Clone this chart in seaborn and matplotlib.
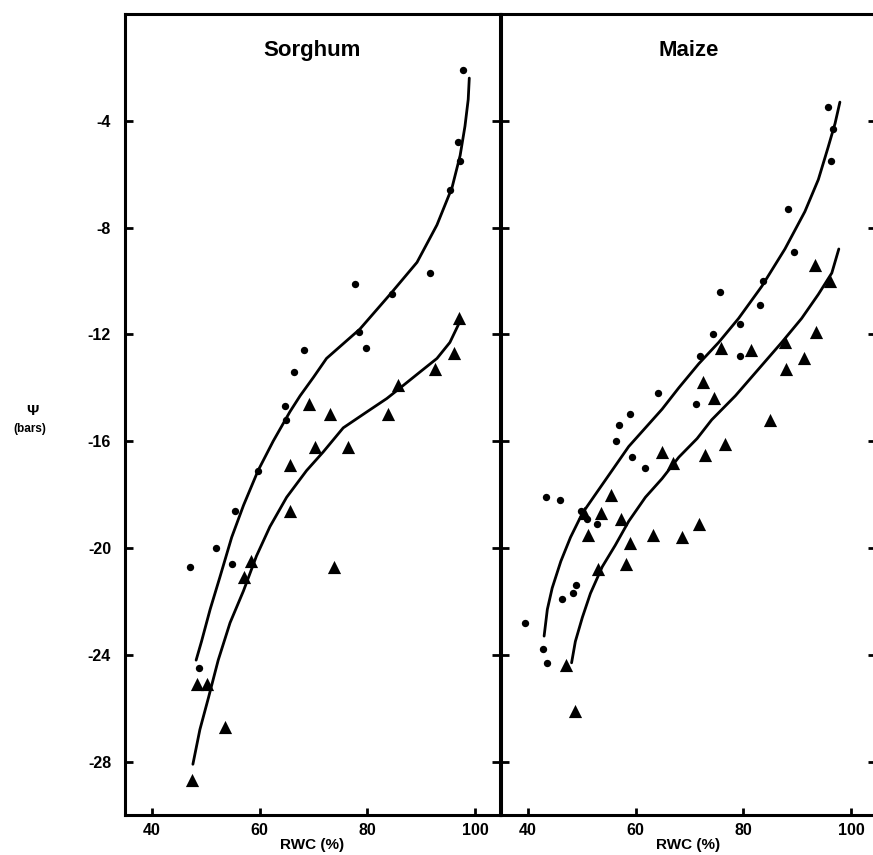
import matplotlib
matplotlib.use("Agg")
import matplotlib.pyplot as plt
import seaborn as sns
import pandas as pd

# ---------- dados ----------
# Sorgo: círculos (curva superior) e triângulos (curva inferior)
sorghum_circ_rwc = [97.8, 96.8, 97.2, 95.3, 91.6, 77.6, 84.5, 78.5, 79.7, 68.3, 66.4, 64.7, 64.8,
                    59.6, 55.5, 51.9, 47.1, 54.8, 48.8]
sorghum_circ_psi = [-2.1, -4.8, -5.5, -6.6, -9.7, -10.1, -10.5, -11.9, -12.5, -12.6, -13.4, -14.7, -15.2,
                    -17.1, -18.6, -20.0, -20.7, -20.6, -24.5]
sorghum_tri_rwc = [96.9, 96.0, 92.6, 85.6, 69.2, 73.1, 83.9, 70.3, 76.3, 65.6, 65.6, 58.4, 57.1,
                   73.7, 48.4, 50.3, 53.6, 47.4]
sorghum_tri_psi = [-11.4, -12.7, -13.3, -13.9, -14.6, -15.0, -15.0, -16.2, -16.2, -16.9, -18.6, -20.5, -21.1,
                   -20.7, -25.1, -25.1, -26.7, -28.7]

sorghum_up_rwc = [48.2, 49.2, 50.8, 52.6, 54.8, 57.0, 59.7, 62.5, 65.6, 67.5, 70.0, 72.4, 78.6, 84.2,
                  89.2, 92.9, 95.7, 97.2, 98.1, 98.7, 98.9]
sorghum_up_psi = [-24.2, -23.5, -22.3, -21.1, -19.6, -18.4, -17.1, -16.0, -14.9, -14.3, -13.6, -12.9, -11.8, -10.5,
                  -9.3, -7.9, -6.5, -5.3, -4.2, -3.2, -2.4]
sorghum_lo_rwc = [47.6, 48.9, 50.5, 52.3, 54.5, 57.0, 59.4, 61.9, 65.0, 68.7, 71.8, 75.5, 79.9, 83.6,
                  86.1, 89.8, 92.9, 95.3, 97.2]
sorghum_lo_psi = [-28.1, -26.8, -25.6, -24.2, -22.8, -21.6, -20.3, -19.2, -18.1, -17.1, -16.4, -15.5, -14.9, -14.4,
                  -14.0, -13.4, -12.9, -12.3, -11.5]

# Milho
maize_circ_rwc = [95.6, 96.7, 96.2, 88.2, 89.4, 83.6, 75.6, 83.1, 79.3, 74.4, 79.3, 72.0, 64.1, 71.2, 59.0,
                  56.9, 56.4, 59.4, 61.8, 43.3, 45.9, 49.9, 51.0, 52.8, 48.9, 48.3, 46.3, 39.4, 42.8, 43.6]
maize_circ_psi = [-3.5, -4.3, -5.5, -7.3, -8.9, -10.0, -10.4, -10.9, -11.6, -12.0, -12.8, -12.8, -14.2, -14.6, -15.0,
                  -15.4, -16.0, -16.6, -17.0, -18.1, -18.2, -18.6, -18.9, -19.1, -21.4, -21.7, -21.9, -22.8, -23.8, -24.3]
maize_tri_rwc = [93.3, 96.1, 93.4, 87.8, 91.2, 87.9, 75.9, 81.4, 72.4, 74.6, 84.9, 76.6, 64.8, 72.8, 66.9,
                 55.5, 50.4, 53.5, 57.2, 71.7, 51.1, 63.3, 68.6, 59.0, 53.0, 58.2, 47.0, 48.7]
maize_tri_psi = [-9.4, -10.0, -11.9, -12.3, -12.9, -13.3, -12.5, -12.6, -13.8, -14.4, -15.2, -16.1, -16.4, -16.5, -16.8,
                 -18.0, -18.7, -18.7, -18.9, -19.1, -19.5, -19.5, -19.6, -19.8, -20.8, -20.6, -24.4, -26.1]

maize_up_rwc = [43.0, 43.6, 44.5, 46.1, 47.9, 50.1, 52.5, 55.6, 58.7, 61.8, 64.9, 68.0, 71.7, 75.4, 79.1,
                83.4, 87.7, 91.4, 93.9, 95.7, 97.0, 97.9]
maize_up_psi = [-23.3, -22.3, -21.5, -20.5, -19.6, -18.7, -18.0, -17.1, -16.2, -15.5, -14.8, -14.0, -13.1, -12.3, -11.4,
                -10.2, -8.8, -7.4, -6.2, -5.0, -4.1, -3.3]
maize_lo_rwc = [48.1, 48.8, 50.1, 51.6, 53.8, 56.2, 58.7, 61.8, 64.9, 68.0, 71.4, 74.1, 78.5, 82.8, 87.1,
                90.8, 93.9, 96.4, 97.7]
maize_lo_psi = [-24.3, -23.5, -22.6, -21.7, -20.7, -19.9, -19.0, -18.1, -17.4, -16.6, -15.9, -15.2, -14.3, -13.3, -12.3,
                -11.4, -10.5, -9.7, -8.8]

panel_titles = ["Sorghum", "Maize"]
x_ticks = [40, 60, 80, 100]
y_ticks = [-4, -8, -12, -16, -20, -24, -28]

# ---------- estilo ----------
sns.set_style("ticks")
plt.rcParams["font.family"] = ["Liberation Sans", "DejaVu Sans"]
plt.rcParams["font.weight"] = "bold"
plt.rcParams["axes.unicode_minus"] = False
plt.rcParams["text.color"] = "black"
plt.rcParams["xtick.color"] = "black"
plt.rcParams["ytick.color"] = "black"
plt.rcParams["axes.labelcolor"] = "black"
plt.rcParams["axes.edgecolor"] = "black"

fig = plt.figure(figsize=(8.73, 8.55), dpi=100)
ax_s = fig.add_axes([125 / 873, 40 / 855, 375 / 873, 801 / 855])
ax_m = fig.add_axes([501 / 873, 40 / 855, 375 / 873, 801 / 855])

panels = [
    (ax_s, sorghum_circ_rwc, sorghum_circ_psi, sorghum_tri_rwc, sorghum_tri_psi,
     sorghum_up_rwc, sorghum_up_psi, sorghum_lo_rwc, sorghum_lo_psi),
    (ax_m, maize_circ_rwc, maize_circ_psi, maize_tri_rwc, maize_tri_psi,
     maize_up_rwc, maize_up_psi, maize_lo_rwc, maize_lo_psi),
]

for i, (ax, cx, cy, tx, ty, ux, uy, lx, ly) in enumerate(panels):
    circ = pd.DataFrame({"rwc": cx, "psi": cy})
    tri = pd.DataFrame({"rwc": tx, "psi": ty})
    up = pd.DataFrame({"rwc": ux, "psi": uy})
    lo = pd.DataFrame({"rwc": lx, "psi": ly})

    sns.lineplot(data=up, x="rwc", y="psi", ax=ax, sort=False, estimator=None,
                 color="black", linewidth=2.0)
    sns.lineplot(data=lo, x="rwc", y="psi", ax=ax, sort=False, estimator=None,
                 color="black", linewidth=2.0)
    sns.scatterplot(data=circ, x="rwc", y="psi", ax=ax, marker="o", s=28,
                    color="black", edgecolor="black", linewidth=0)
    sns.scatterplot(data=tri, x="rwc", y="psi", ax=ax, marker="^", s=90,
                    color="black", edgecolor="black", linewidth=0)

    ax.set_xlim(35, 104.6)
    ax.set_ylim(-30, 0)
    ax.set_xticks(x_ticks)
    ax.set_yticks(y_ticks)
    for sp in ax.spines.values():
        sp.set_linewidth(2.2)
        sp.set_color("black")
        sp.set_visible(True)
    ax.tick_params(axis="x", direction="in", length=5, width=2, pad=6,
                   labelsize=11.5, top=False, colors="black")
    ax.tick_params(axis="y", direction="in", length=6, width=2, pad=10,
                   labelsize=11.5, left=True, right=True, labelleft=(i == 0), colors="black")
    for lab in ax.get_xticklabels() + ax.get_yticklabels():
        lab.set_fontweight("bold")
    ax.set_xlabel("RWC (%)", fontsize=11, fontweight="bold", labelpad=0, color="black")
    ax.set_ylabel("")
    ax.text(0.5, 0.954, panel_titles[i], transform=ax.transAxes, ha="center", va="center",
            fontsize=16, fontweight="bold", color="black")

fig.text(32 / 873, 1 - 411 / 855, "Ψ", ha="center", va="center",
         fontsize=11, fontweight="bold", color="black")
fig.text(30 / 873, 1 - 429 / 855, "(bars)", ha="center", va="center",
         fontsize=8.5, fontweight="bold", color="black")

fig.savefig("out.png", dpi=100)
